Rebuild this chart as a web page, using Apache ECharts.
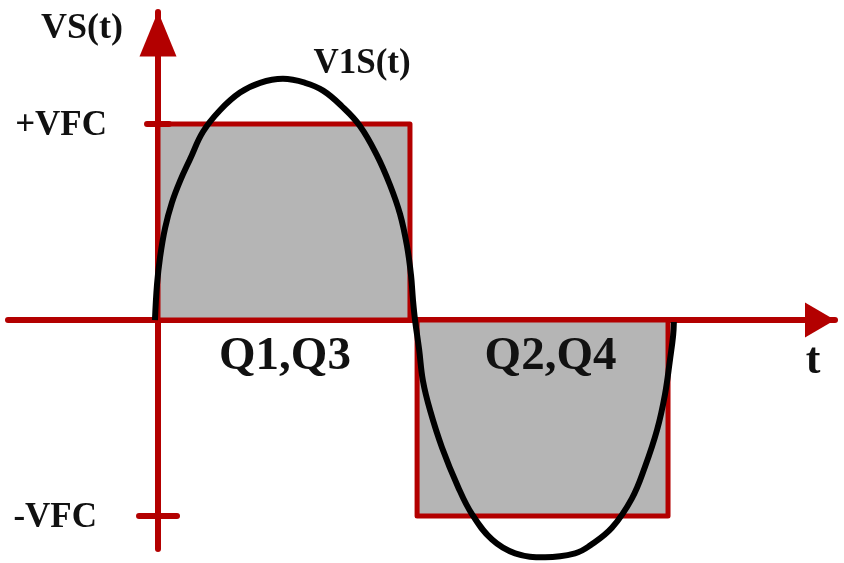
<!DOCTYPE html>
<html>
<head>
<meta charset="utf-8">
<title>VS(t)</title>
<script src="https://cdn.jsdelivr.net/npm/echarts@6/dist/echarts.min.js"></script>
<style>
  html, body { margin: 0; padding: 0; background: #fff; }
  #chart { width: 844px; height: 563px; }
</style>
</head>
<body>
<div id="chart"></div>
<script>
// time: one half period = 10 units, voltage in units of VFC
const tRange = [-5.906, 26.654]
const vRange = [-1.168, 1.571]

const levelValues = [1, -1]
const levelLabels = ['+VFC', '-VFC']

const pulseStart = [0, 10.2]
const pulseEnd = [9.92, 20.08]
const pulseLevel = [1, -1]
const pulseLabels = ['Q1,Q3', 'Q2,Q4']

// V1S(t)
const curveT = [-0.12, -0.04, 0.08, 0.28, 0.55, 0.87, 1.26, 1.77, 2.44, 3.23, 4.02, 4.92, 5.79, 6.50, 7.24, 7.95, 8.62, 9.13, 9.53, 9.80, 9.96, 10.04,
  10.12, 10.28, 10.43, 10.71, 11.18, 11.81, 12.36, 13.15, 14.06, 15.24, 16.42, 17.01, 17.87, 18.66, 19.17, 19.65, 19.96, 20.16, 20.28, 20.31]
const curveV = [0, 0.18, 0.32, 0.47, 0.60, 0.71, 0.82, 0.96, 1.07, 1.16, 1.21, 1.23, 1.21, 1.17, 1.09, 0.99, 0.84, 0.69, 0.54, 0.38, 0.23, 0.10,
  0, -0.15, -0.31, -0.46, -0.65, -0.85, -0.99, -1.12, -1.19, -1.21, -1.19, -1.15, -1.06, -0.91, -0.75, -0.56, -0.38, -0.20, -0.08, -0.01]

const red = '#b30000'
const grey = '#b5b5b5'
const ink = '#111'
const serif = '"Liberation Serif", "Times New Roman", serif'

const chart = echarts.init(document.getElementById('chart'))

chart.setOption({
  animation: false,
  grid: { left: 8, right: 9, top: 12, bottom: 14 },
  xAxis: {
    type: 'value',
    min: tRange[0],
    max: tRange[1],
    axisLine: {
      onZero: true,
      lineStyle: { color: red, width: 6 },
      symbol: ['none', 'triangle'],
      symbolSize: [35, 30],
      symbolOffset: [0, -15]
    },
    axisTick: { show: false },
    axisLabel: { show: false },
    splitLine: { show: false }
  },
  yAxis: {
    type: 'value',
    min: vRange[0],
    max: vRange[1],
    axisLine: {
      onZero: true,
      lineStyle: { color: red, width: 6 },
      symbol: ['none', 'triangle'],
      symbolSize: [37, 45],
      symbolOffset: [0, -22]
    },
    axisTick: { show: false },
    axisLabel: { show: false },
    splitLine: { show: false }
  },
  graphic: [
    { type: 'text', x: 82, y: 29, style: { text: 'VS(t)', fontFamily: serif, fontWeight: 'bold', fontSize: 36, fill: ink, align: 'center', verticalAlign: 'middle' } },
    { type: 'text', x: 813, y: 362, style: { text: 't', fontFamily: serif, fontWeight: 'bold', fontSize: 44, fill: ink, align: 'center', verticalAlign: 'middle' } },
    { type: 'text', x: 362, y: 64, style: { text: 'V1S(t)', fontFamily: serif, fontWeight: 'bold', fontSize: 35, fill: ink, align: 'center', verticalAlign: 'middle' } }
  ],
  series: [
    {
      type: 'custom',
      name: 'pulses',
      silent: true,
      data: pulseStart.map((s, i) => [s, pulseEnd[i], pulseLevel[i]]),
      renderItem(params, api) {
        const i = params.dataIndex
        const p0 = api.coord([api.value(0), 0])
        const p1 = api.coord([api.value(1), api.value(2)])
        const cx = (p0[0] + p1[0]) / 2 + (i ? 8 : 1)
        return {
          type: 'group',
          children: [
            {
              type: 'rect',
              shape: { x: p0[0], y: Math.min(p0[1], p1[1]), width: p1[0] - p0[0], height: Math.abs(p1[1] - p0[1]) },
              style: { fill: grey, stroke: red, lineWidth: 5, lineJoin: 'round' }
            },
            {
              type: 'text',
              x: cx,
              y: p0[1] + 37,
              style: { text: pulseLabels[i], fontFamily: serif, fontWeight: 'bold', fontSize: 47, fill: ink, align: 'center', verticalAlign: 'middle' }
            }
          ]
        }
      }
    },
    {
      type: 'custom',
      name: 'levels',
      silent: true,
      data: levelValues.map(v => [0, v]),
      renderItem(params, api) {
        const i = params.dataIndex
        const p = api.coord([api.value(0), api.value(1)])
        const half = api.value(1) > 0 ? 11 : 19
        return {
          type: 'group',
          children: [
            {
              type: 'line',
              shape: { x1: p[0] - half, y1: p[1], x2: p[0] + half, y2: p[1] },
              style: { stroke: red, lineWidth: 6, lineCap: 'round' }
            },
            {
              type: 'text',
              x: p[0] - half - (half > 15 ? 42 : 40),
              y: p[1] + 2,
              style: { text: levelLabels[i], fontFamily: serif, fontWeight: 'bold', fontSize: 35, fill: ink, align: 'right', verticalAlign: 'middle' }
            }
          ]
        }
      }
    },
    {
      type: 'line',
      name: 'V1S(t)',
      silent: true,
      clip: false,
      showSymbol: false,
      smooth: 0.4,
      lineStyle: { color: '#000', width: 6 },
      data: curveT.map((t, i) => [t, curveV[i]]),
      z: 5
    }
  ]
})
</script>
</body>
</html>
